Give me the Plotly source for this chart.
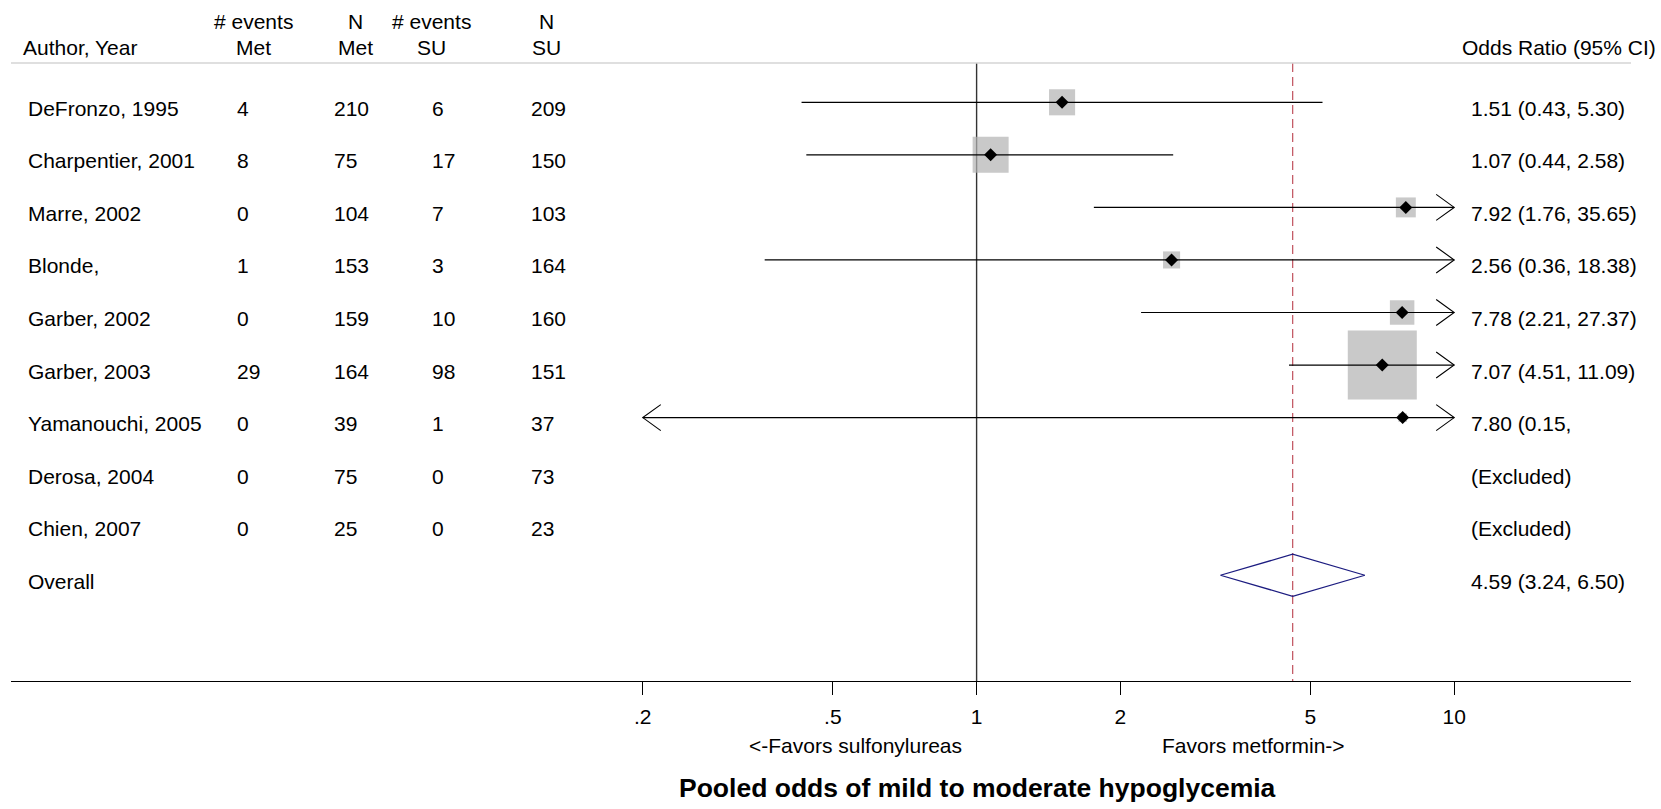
import math
import plotly.graph_objects as go

# ---------------- data ----------------
authors = ["DeFronzo, 1995", "Charpentier, 2001", "Marre, 2002", "Blonde,", "Garber, 2002",
           "Garber, 2003", "Yamanouchi, 2005", "Derosa, 2004", "Chien, 2007", "Overall"]
events_met = ["4", "8", "0", "1", "0", "29", "0", "0", "0", ""]
n_met = ["210", "75", "104", "153", "159", "164", "39", "75", "25", ""]
events_su = ["6", "17", "7", "3", "10", "98", "1", "0", "0", ""]
n_su = ["209", "150", "103", "164", "160", "151", "37", "73", "23", ""]
or_labels = ["1.51 (0.43, 5.30)", "1.07 (0.44, 2.58)", "7.92 (1.76, 35.65)", "2.56 (0.36, 18.38)",
             "7.78 (2.21, 27.37)", "7.07 (4.51, 11.09)", "7.80 (0.15,", "(Excluded)", "(Excluded)",
             "4.59 (3.24, 6.50)"]

study_or = [1.51, 1.07, 7.92, 2.56, 7.78, 7.07, 7.80]
study_lo = [0.43, 0.44, 1.76, 0.36, 2.21, 4.51, 0.15]
study_hi = [5.30, 2.58, 35.65, 18.38, 27.37, 11.09, 405.0]
study_weight = [8.4, 16.0, 4.9, 3.6, 7.4, 58.8, 0.9]   # percent weights (box area)

pooled_or, pooled_lo, pooled_hi = 4.59, 3.24, 6.50
pooled_row = 9

tick_vals = [0.2, 0.5, 1, 2, 5, 10]
tick_text = [".2", ".5", "1", "2", "5", "10"]

header_line1 = ["# events", "N", "# events", "N"]
header_line2 = ["Met", "Met", "SU", "SU"]

title_text = "Pooled odds of mild to moderate hypoglycemia"
left_label = "<-Favors sulfonylureas"
right_label = "Favors metformin->"

# ---------------- styling / layout ----------------
W, H = 1661, 809
FONT = "Liberation Sans, Arial, Helvetica, sans-serif"
FS = 21
PX_L, PX_R = 11, 1631          # plot area left/right px
PX_T, PX_B = 63, 681           # plot area top/bottom px
X_RANGE = [-2.0218, 1.3702]    # log10 range
Y_RANGE = [11.0124, -0.7479]   # row index range (reversed)
clip_lo, clip_hi = min(tick_vals), max(tick_vals)

dec_px = (PX_R - PX_L) / (X_RANGE[1] - X_RANGE[0])
row_px = (PX_B - PX_T) / (Y_RANGE[0] - Y_RANGE[1])
arrow_fx = 10 ** (18 / dec_px)
arrow_dy = 13 / row_px

fig = go.Figure()

y_top, y_bot = Y_RANGE[1], Y_RANGE[0]

# null line at 1
fig.add_trace(go.Scatter(x=[1, 1], y=[y_top, y_bot], mode="lines",
                         line=dict(color="#333333", width=1.4), hoverinfo="skip", cliponaxis=False))
# pooled estimate dashed line
fig.add_trace(go.Scatter(x=[pooled_or, pooled_or], y=[y_top, y_bot], mode="lines",
                         line=dict(color="#c0505c", width=1.2, dash="9px,5px"),
                         hoverinfo="skip", cliponaxis=False))

rows = list(range(len(study_or)))
# weight boxes
fig.add_trace(go.Scatter(x=study_or, y=rows, mode="markers",
                         marker=dict(symbol="square", color="#b2b2b2",
                                     size=[9.0 * math.sqrt(w) for w in study_weight],
                                     line=dict(width=0)),
                         hoverinfo="skip"))

# CI lines and arrows
for i, (lo, hi) in enumerate(zip(study_lo, study_hi)):
    x0 = max(lo, clip_lo)
    x1 = min(hi, clip_hi)
    fig.add_trace(go.Scatter(x=[x0, x1], y=[i, i], mode="lines",
                             line=dict(color="black", width=1.2), hoverinfo="skip"))
    if hi > clip_hi:
        fig.add_trace(go.Scatter(x=[x1 / arrow_fx, x1, x1 / arrow_fx],
                                 y=[i - arrow_dy, i, i + arrow_dy], mode="lines",
                                 line=dict(color="black", width=1.1), hoverinfo="skip"))
    if lo < clip_lo:
        fig.add_trace(go.Scatter(x=[x0 * arrow_fx, x0, x0 * arrow_fx],
                                 y=[i - arrow_dy, i, i + arrow_dy], mode="lines",
                                 line=dict(color="black", width=1.1), hoverinfo="skip"))

# point estimates
fig.add_trace(go.Scatter(x=study_or, y=rows, mode="markers",
                         marker=dict(symbol="diamond", color="black", size=10, line=dict(width=0)),
                         hoverinfo="skip"))

# pooled diamond
dh = 0.40
fig.add_trace(go.Scatter(x=[pooled_lo, pooled_or, pooled_hi, pooled_or, pooled_lo],
                         y=[pooled_row, pooled_row - dh, pooled_row, pooled_row + dh, pooled_row],
                         mode="lines", line=dict(color="#1c1c80", width=1.3), hoverinfo="skip"))

# ---------------- text columns ----------------
annotations = []
col_left_px = [26, 235, 332, 430, 529, 1469]
columns = [authors, events_met, n_met, events_su, n_su, or_labels]
for cx, col in zip(col_left_px, columns):
    for i, txt in enumerate(col):
        if txt == "":
            continue
        annotations.append(dict(x=cx / W, xref="paper", xanchor="left", y=i, yref="y",
                                yanchor="middle", yshift=-6, text=txt, showarrow=False,
                                font=dict(family=FONT, size=FS, color="black")))

def paper_y(py):
    return 1 - py / H

hdr_centers = [253.5, 355, 431, 546]
for cx, t1, t2 in zip(hdr_centers, header_line1, header_line2):
    annotations.append(dict(x=cx / W, xref="paper", xanchor="center", y=paper_y(22), yref="paper",
                            yanchor="middle", text=t1, showarrow=False,
                            font=dict(family=FONT, size=FS, color="black")))
    annotations.append(dict(x=cx / W, xref="paper", xanchor="center", y=paper_y(48), yref="paper",
                            yanchor="middle", text=t2, showarrow=False,
                            font=dict(family=FONT, size=FS, color="black")))
annotations.append(dict(x=21 / W, xref="paper", xanchor="left", y=paper_y(48), yref="paper",
                        yanchor="middle", text="Author, Year", showarrow=False,
                        font=dict(family=FONT, size=FS, color="black")))
annotations.append(dict(x=1658 / W, xref="paper", xanchor="right", y=paper_y(48), yref="paper",
                        yanchor="middle", text="Odds Ratio (95% CI)", showarrow=False,
                        font=dict(family=FONT, size=FS, color="black")))

annotations.append(dict(x=855.5 / W, xref="paper", xanchor="center", y=paper_y(745), yref="paper",
                        yanchor="middle", text=left_label, showarrow=False,
                        font=dict(family=FONT, size=FS, color="black")))
annotations.append(dict(x=1253.5 / W, xref="paper", xanchor="center", y=paper_y(745), yref="paper",
                        yanchor="middle", text=right_label, showarrow=False,
                        font=dict(family=FONT, size=FS, color="black")))
annotations.append(dict(x=977 / W, xref="paper", xanchor="center", y=paper_y(788), yref="paper",
                        yanchor="middle", text="<b>" + title_text + "</b>", showarrow=False,
                        font=dict(family=FONT, size=26.5, color="black")))

shapes = [dict(type="line", xref="paper", yref="paper", x0=PX_L / W, x1=PX_R / W,
               y0=paper_y(PX_T), y1=paper_y(PX_T), line=dict(color="#d4d4d4", width=1.6))]

fig.update_layout(
    width=W, height=H, margin=dict(l=0, r=0, t=0, b=0),
    paper_bgcolor="white", plot_bgcolor="white", showlegend=False,
    xaxis=dict(type="log", domain=[PX_L / W, PX_R / W], range=X_RANGE,
               tickvals=tick_vals, ticktext=tick_text, showgrid=False, zeroline=False,
               showline=True, linecolor="black", linewidth=1, ticks="outside", ticklen=13,
               tickwidth=1, tickcolor="black", ticklabelstandoff=4,
               tickfont=dict(family=FONT, size=FS, color="black"), fixedrange=True),
    yaxis=dict(domain=[paper_y(PX_B), paper_y(PX_T)], range=Y_RANGE, visible=False,
               showgrid=False, zeroline=False, fixedrange=True),
    annotations=annotations, shapes=shapes,
)

fig.write_html("out.html", config={"displayModeBar": False},
               post_script="document.body.style.margin='0';")
